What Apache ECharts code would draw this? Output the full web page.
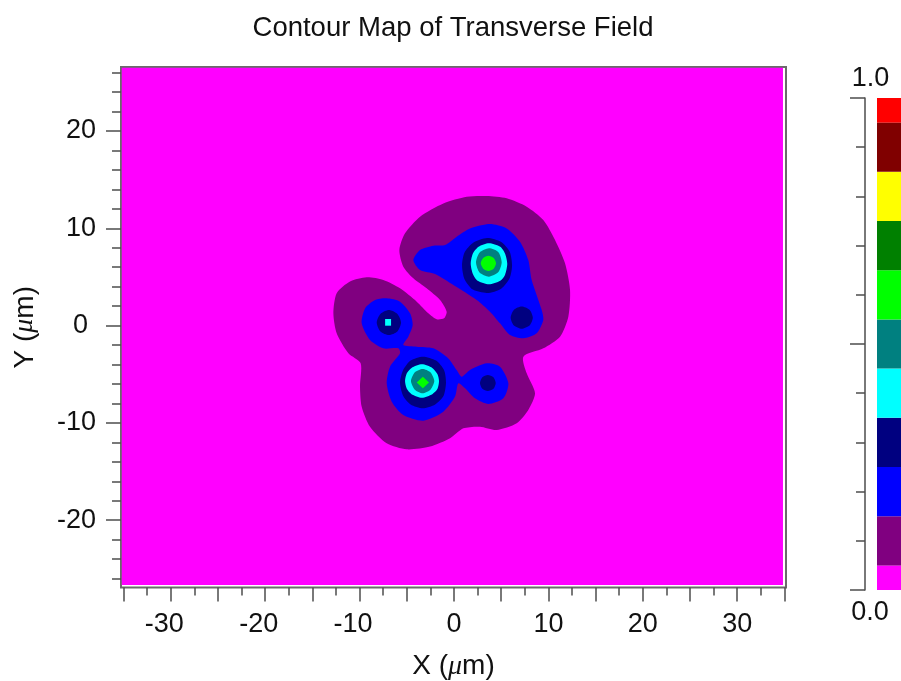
<!DOCTYPE html>
<html><head><meta charset="utf-8">
<style>html,body{margin:0;padding:0;background:#fff}#c{width:901px;height:681px}</style>
<script src="https://cdn.jsdelivr.net/npm/echarts@6/dist/echarts.min.js"></script>
</head><body><div id="c"></div>
<script>
// Colour scale: band edges (field amplitude) and colours
const bandEdges = [0, 0.05, 0.15, 0.25, 0.35, 0.45, 0.55, 0.65, 0.75, 0.85, 0.95, 1];
const bandColors = ['#ff00ff','#800080','#0000ff','#000080','#00ffff','#008080','#00ff00','#008000','#ffff00','#800000','#ff0000'];

// Axis ticks
const xMajor = [-35,-30,-25,-20,-15,-10,-5,0,5,10,15,20,25,30,35];
const xMinor = [-32.5,-27.5,-22.5,-17.5,-12.5,-7.5,-2.5,2.5,7.5,12.5,17.5,22.5,27.5,32.5];
const xLabels = [-30,-20,-10,0,10,20,30];
const yMajor = [-20,-10,0,10,20];
const yMinor = [-26,-24,-22,-18,-16,-14,-12,-8,-6,-4,-2,2,4,6,8,12,14,16,18,22,24,26];

// Filled contours in micrometres: [x, y] outlines
const field = [[-35.2,26.5],[34.85,26.5],[34.85,-26.66],[-35.2,-26.66]];
const outer = [[3.46,13.32],[5.58,13.08],[7.70,12.22],[9.46,10.85],[10.70,8.80],[11.76,6.40],[12.29,3.66],[12.11,0.92],[11.23,-1.14],[9.46,-2.34],[7.35,-3.19],[7.70,-4.91],[8.58,-6.96],[7.87,-8.67],[6.64,-10.04],[4.52,-10.73],[2.75,-10.39],[0.99,-10.56],[-0.42,-11.59],[-2.54,-12.44],[-5.01,-12.72],[-7.13,-12.10],[-8.90,-10.39],[-9.78,-8.33],[-9.96,-6.28],[-9.89,-3.88],[-11.19,-2.85],[-12.43,-0.79],[-12.78,1.26],[-12.43,3.32],[-11.02,4.52],[-9.25,4.96],[-7.49,4.69],[-5.72,3.83],[-3.95,2.46],[-2.72,1.26],[-1.84,0.65],[-1.06,0.75],[-0.78,1.43],[-1.48,2.63],[-2.90,3.83],[-4.31,4.86],[-5.37,6.06],[-5.79,7.77],[-5.19,9.48],[-3.60,11.20],[-1.13,12.56],[1.34,13.25]];
const blueUpper = [[-4.31,6.74],[-3.60,7.77],[-2.19,8.21],[-0.95,8.28],[0.28,9.14],[1.69,9.99],[3.81,10.44],[5.58,9.99],[6.99,8.63],[7.87,6.74],[8.23,4.69],[9.29,1.60],[9.46,0.57],[8.76,-0.79],[7.35,-1.31],[5.93,-0.97],[4.87,0.23],[3.81,1.43],[2.40,2.63],[-0.07,4.17],[-2.01,5.30],[-3.60,5.71]];
const blueLower = [[-7.13,2.80],[-5.72,2.46],[-4.66,1.26],[-4.38,0.06],[-4.84,-1.14],[-5.37,-2.00],[-3.95,-2.17],[-2.19,-2.34],[-0.60,-3.37],[0.28,-4.57],[0.81,-5.25],[1.69,-4.57],[3.46,-3.88],[4.87,-4.22],[5.76,-5.93],[5.23,-7.48],[3.64,-8.06],[2.22,-7.48],[1.17,-6.45],[0.46,-5.93],[0.11,-7.30],[-1.13,-8.85],[-3.25,-9.77],[-5.37,-9.19],[-6.60,-7.82],[-7.13,-5.93],[-6.78,-4.22],[-5.72,-2.85],[-5.90,-2.34],[-7.49,-2.34],[-8.90,-1.48],[-9.78,0.23],[-9.43,1.77],[-8.37,2.63]];
const navyPeakA = [[3.5,9.0],[5.0,8.6],[5.9,7.6],[6.15,6.2],[5.9,4.9],[5.0,3.8],[3.5,3.35],[2.0,3.7],[1.1,4.8],[0.85,6.2],[1.1,7.5],[2.0,8.5]];
const cyanPeakA = [[3.7,8.46],[4.9,8.1],[5.4,7.4],[5.64,6.35],[5.4,5.2],[4.9,4.6],[3.7,4.24],[2.5,4.6],[2.0,5.3],[1.77,6.35],[2.0,7.4],[2.6,8.1]];
const tealPeakA = [[3.7,7.94],[4.7,7.55],[5.05,6.5],[4.7,5.5],[3.7,5.03],[2.7,5.45],[2.33,6.5],[2.7,7.5]];
const limePeakA = [[3.64,7.18],[4.2,6.95],[4.45,6.4],[4.2,5.85],[3.64,5.61],[3.1,5.85],[2.83,6.4],[3.1,6.95]];
const navyPeakB = [[7.17,1.95],[8.0,1.62],[8.35,0.81],[8.0,0],[7.17,-0.33],[6.35,0],[6.0,0.81],[6.35,1.62]];
const navyPeakC = [[-6.9,1.6],[-6.0,1.2],[-5.61,0.32],[-6.0,-0.6],[-6.9,-0.97],[-7.8,-0.6],[-8.19,0.32],[-7.8,1.2]];
const cyanPeakC = [[-7.3,0.68],[-6.67,0.68],[-6.67,-0.01],[-7.3,-0.01]];
const navyPeakD = [[-3.3,-3.2],[-1.9,-3.6],[-1.05,-4.6],[-0.85,-5.85],[-1.1,-7.2],[-2.0,-8.1],[-3.3,-8.5],[-4.6,-8.1],[-5.4,-7.2],[-5.72,-5.85],[-5.4,-4.6],[-4.6,-3.6]];
const cyanPeakD = [[-3.4,-3.98],[-2.3,-4.35],[-1.75,-5.0],[-1.59,-5.7],[-1.75,-6.5],[-2.3,-7.05],[-3.4,-7.41],[-4.5,-7.05],[-5.0,-6.5],[-5.19,-5.7],[-5.0,-4.9],[-4.5,-4.35]];
const tealPeakD = [[-3.33,-4.46],[-2.5,-4.8],[-2.09,-5.7],[-2.5,-6.6],[-3.33,-6.96],[-4.15,-6.6],[-4.56,-5.7],[-4.15,-4.8]];
const limePeakD = [[-3.3,-5.25],[-2.65,-5.85],[-3.3,-6.44],[-3.95,-5.85]];
const navyPeakE = [[3.58,-5.08],[4.18,-5.3],[4.42,-5.9],[4.18,-6.5],[3.58,-6.72],[3.0,-6.5],[2.75,-5.9],[3.0,-5.3]];

// Draw order: [band index, outline]
const contours = [
  [0, field], [1, outer], [2, blueUpper], [2, blueLower],
  [3, navyPeakA], [4, cyanPeakA], [5, tealPeakA], [6, limePeakA],
  [3, navyPeakB], [3, navyPeakC], [4, cyanPeakC],
  [3, navyPeakD], [4, cyanPeakD], [5, tealPeakD], [6, limePeakD], [3, navyPeakE]
];

const FONT = '"Liberation Sans", Arial, sans-serif';
const INK = '#111';
const LINE = '#4d4d4d';
const LABEL = 27;
const XR = [-35.28, 35.17], YR = [-26.92, 26.58];

const nameRich = {
  a: {fontFamily: FONT, fontSize: 28, color: INK},
  m: {fontFamily: '"Liberation Serif", serif', fontStyle: 'italic', fontSize: 28, color: INK}
};
const xBase = {gridIndex: 0, type: 'value', min: XR[0], max: XR[1], position: 'bottom',
  splitLine: {show: false}, axisLine: {show: false, onZero: false}};
const yBase = {gridIndex: 0, type: 'value', min: YR[0], max: YR[1], position: 'left',
  splitLine: {show: false}, axisLine: {show: false, onZero: false}};
const tick = (len, w) => ({show: true, inside: false, length: len, lineStyle: {color: LINE, width: w || 1.5}});
const titleText = (text, x, y, size) => ({text, left: x, top: y, padding: 0, textAlign: 'center',
  textStyle: {fontFamily: FONT, fontSize: size, fontWeight: 'normal', color: INK}});

const option = {
  animation: false,
  backgroundColor: '#fff',
  title: [
    titleText('Contour Map of Transverse Field', 453, 14, 27.5),
    titleText('1.0', 870.5, 65, LABEL),
    titleText('0.0', 870, 599, LABEL)
  ],
  grid: [
    {left: 121, top: 67, width: 665, height: 520.5, show: true, backgroundColor: '#fff',
     borderColor: '#6a6a6a', borderWidth: 2, containLabel: false, outerBoundsMode: 'none'},
    {left: 877, top: 98, width: 24, height: 492, show: false, outerBoundsMode: 'none'}
  ],
  xAxis: [
    Object.assign({}, xBase, {
      axisTick: Object.assign(tick(14), {customValues: xMajor}),
      axisLabel: {customValues: xLabels, margin: 24, fontFamily: FONT, fontSize: LABEL, color: INK,
        formatter: v => v < 0 ? '{neg|' + v + '}' : String(v),
        rich: {neg: {padding: [0, 13, 0, 0], fontFamily: FONT, fontSize: LABEL, color: INK}}},
      name: '{a|X (}{m|\u03bc}{a|m)}', nameLocation: 'middle', nameGap: 65, nameTextStyle: {rich: nameRich}
    }),
    Object.assign({}, xBase, {
      axisTick: Object.assign(tick(8), {customValues: xMinor}), axisLabel: {show: false}
    }),
    {gridIndex: 1, type: 'value', min: 0, max: 1, show: false}
  ],
  yAxis: [
    Object.assign({}, yBase, {
      axisTick: Object.assign(tick(15), {customValues: yMajor}),
      axisLabel: {customValues: yMajor, margin: 25, fontFamily: FONT, fontSize: LABEL, color: INK,
        formatter: v => v === 0 ? '{z|0}' : String(v),
        rich: {z: {padding: [0, 8, 0, 0], fontFamily: FONT, fontSize: LABEL, color: INK}}},
      name: '{a|Y (}{m|\u03bc}{a|m)}', nameLocation: 'middle', nameGap: 82, nameRotate: 90, nameTextStyle: {rich: nameRich}
    }),
    Object.assign({}, yBase, {
      axisTick: Object.assign(tick(9), {customValues: yMinor}), axisLabel: {show: false}
    }),
    {gridIndex: 1, type: 'value', min: 0, max: 1, interval: 0.5, position: 'left', offset: 12,
     splitLine: {show: false}, axisLine: {show: true, onZero: false, lineStyle: {color: LINE, width: 1.5}},
     axisTick: tick(15), axisLabel: {show: false}},
    {gridIndex: 1, type: 'value', min: 0, max: 1, interval: 0.1, position: 'left', offset: 12,
     splitLine: {show: false}, axisLine: {show: false, onZero: false},
     axisTick: tick(9), axisLabel: {show: false}}
  ],
  series: [
    {type: 'custom', coordinateSystem: 'cartesian2d', xAxisIndex: 0, yAxisIndex: 0, silent: true, clip: false,
     data: contours.map((c, i) => [i]),
     renderItem: function (params, api) {
       const c = contours[params.dataIndex];
       return {type: 'polygon', shape: {points: c[1].map(p => api.coord(p)), smooth: c[1].length > 4 ? 0.25 : 0},
               style: {fill: bandColors[c[0]]}};
     }},
    {type: 'custom', coordinateSystem: 'cartesian2d', xAxisIndex: 2, yAxisIndex: 2, silent: true,
     data: bandColors.map((c, i) => [i]),
     renderItem: function (params, api) {
       const i = params.dataIndex;
       const a = api.coord([0, bandEdges[i + 1]]), b = api.coord([1, bandEdges[i]]);
       return {type: 'rect', shape: {x: a[0], y: a[1], width: b[0] - a[0], height: b[1] - a[1]},
               style: {fill: bandColors[i]}};
     }}
  ]
};
echarts.init(document.getElementById('c'), null, {renderer: 'canvas'}).setOption(option);
</script></body></html>
